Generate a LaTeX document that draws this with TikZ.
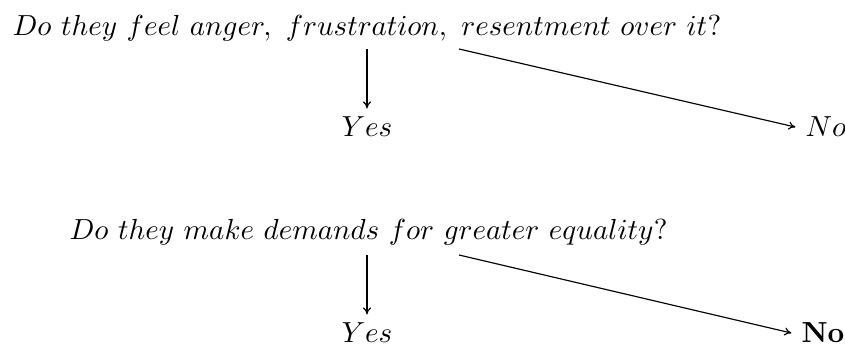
\documentclass[tikz,border=0pt]{standalone}
\usetikzlibrary{arrows.meta}
\begin{document}
\begin{tikzpicture}[x=0.3445pt,y=-0.3445pt,
  txt/.style={inner sep=0pt, anchor=base west},
  ans/.style={inner xsep=3.3pt, inner ysep=2.8pt},
  arr/.style={line width=0.4pt, -{To[length=2.4pt,width=2.8pt]}}]
\useasboundingbox (0,0) rectangle (845,347);
% first question
\node[txt] (q1) at (12,36) {$Do\ they\ feel\ anger,\ frustration,\ resentment\ over\ it?$};
\coordinate (s1) at (367,49);
\coordinate (d1) at (459,49);
\node[ans, anchor=base] (yes1) at (367,137) {$Yes$};
\node[ans, anchor=base west, inner sep=0pt] (no1) at (805,137) {$No$};
\draw[arr] (s1) -- (yes1);
\draw[arr] (d1) -- ([xshift=-3.3pt]no1.west);
% second question
\node[txt] (q2) at (69,240) {$Do\ they\ make\ demands\ for\ greater\ equality?$};
\coordinate (s2) at (367,255);
\coordinate (d2) at (459,255);
\node[ans, anchor=base] (yes2) at (367,343) {$Yes$};
\node[ans, anchor=base west, inner sep=0pt] (no2) at (801,343) {$\mathbf{No}$};
\draw[arr] (s2) -- (yes2);
\draw[arr] (d2) -- ([xshift=-3.3pt]no2.west);
\end{tikzpicture}
\end{document}
